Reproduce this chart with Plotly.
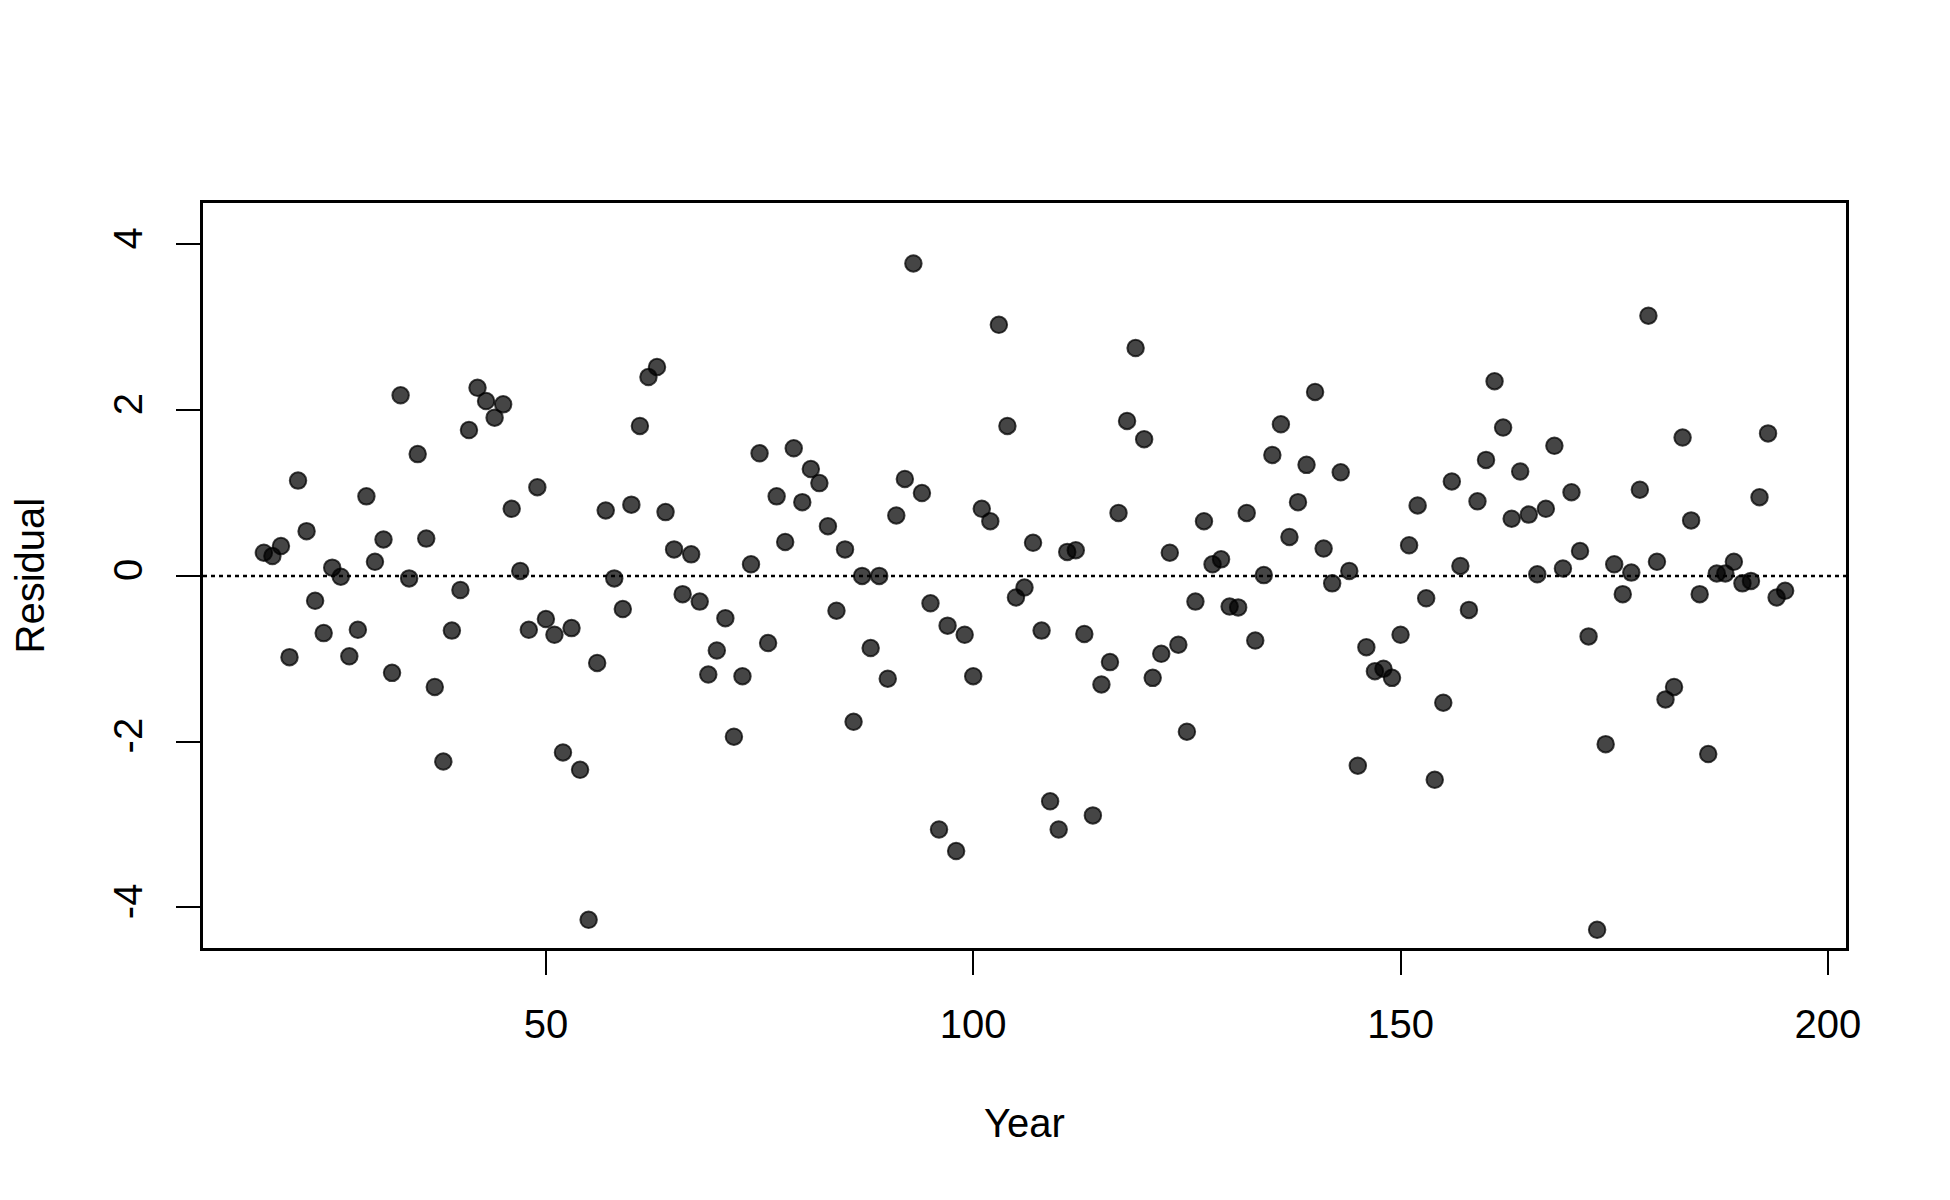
import plotly.graph_objects as go

years = list(range(17, 196))
residuals = [
    0.28, 0.24, 0.36, -0.98, 1.15, 0.54, -0.30, -0.69, 0.10, -0.01,
    -0.97, -0.65, 0.96, 0.17, 0.44, -1.17, 2.18, -0.03, 1.47, 0.45,
    -1.34, -2.24, -0.66, -0.17, 1.76, 2.27, 2.11, 1.91, 2.07, 0.81,
    0.06, -0.65, 1.07, -0.52, -0.71, -2.13, -0.63, -2.34, -4.15, -1.05,
    0.79, -0.03, -0.40, 0.86, 1.81, 2.40, 2.52, 0.77, 0.32, -0.22,
    0.26, -0.31, -1.19, -0.90, -0.51, -1.94, -1.21, 0.14, 1.48, -0.81,
    0.96, 0.41, 1.54, 0.89, 1.29, 1.12, 0.60, -0.42, 0.32, -1.76,
    0.00, -0.87, 0.00, -1.24, 0.73, 1.17, 3.77, 1.00, -0.33, -3.06,
    -0.60, -3.32, -0.71, -1.21, 0.81, 0.66, 3.03, 1.81, -0.26, -0.14,
    0.40, -0.66, -2.72, -3.06, 0.29, 0.31, -0.70, -2.89, -1.31, -1.04,
    0.76, 1.87, 2.75, 1.65, -1.23, -0.94, 0.28, -0.83, -1.88, -0.31,
    0.66, 0.14, 0.20, -0.37, -0.38, 0.76, -0.78, 0.01, 1.46, 1.83,
    0.47, 0.89, 1.34, 2.22, 0.33, -0.09, 1.25, 0.06, -2.29, -0.86,
    -1.15, -1.12, -1.23, -0.71, 0.37, 0.85, -0.27, -2.46, -1.53, 1.14,
    0.12, -0.41, 0.90, 1.40, 2.35, 1.79, 0.69, 1.26, 0.74, 0.02,
    0.81, 1.57, 0.09, 1.01, 0.30, -0.73, -4.27, -2.03, 0.14, -0.22,
    0.04, 1.04, 3.14, 0.17, -1.49, -1.34, 1.67, 0.67, -0.22, -2.15,
    0.03, 0.03, 0.17, -0.09, -0.06, 0.95, 1.72, -0.26, -0.18,
]

x_ticks = [50, 100, 150, 200]
y_ticks = [-4, -2, 0, 2, 4]
x_title = "Year"
y_title = "Residual"

FONT = "Liberation Sans, Arial, sans-serif"

fig = go.Figure()
fig.add_trace(go.Scatter(
    x=years, y=residuals, mode="markers",
    marker=dict(size=16.5, color="rgba(0,0,0,0.73)",
                line=dict(color="rgba(0,0,0,0.73)", width=2)),
    showlegend=False, hoverinfo="x+y",
))

fig.add_shape(type="line", xref="paper", x0=0, x1=1, yref="y", y0=0, y1=0,
              line=dict(color="black", width=2.5, dash="4px,4px"))

axis_common = dict(
    showgrid=False, zeroline=False, showline=True, linecolor="black",
    linewidth=2.7, mirror=True, ticks="outside", ticklen=24, tickwidth=2,
    tickcolor="black", tickfont=dict(family=FONT, size=40, color="black"),
)

fig.update_xaxes(range=[9.88, 202.12], tickvals=x_ticks,
                 ticktext=[str(v) for v in x_ticks], ticklabelstandoff=15,
                 **axis_common)
fig.update_yaxes(range=[-4.49, 4.50], tickvals=y_ticks,
                 ticktext=[str(v) for v in y_ticks], tickangle=-90,
                 ticklabelstandoff=18, **axis_common)

fig.add_annotation(text=x_title, xref="paper", yref="paper", x=0.5, y=0,
                   yshift=-175, showarrow=False, yanchor="middle",
                   font=dict(family=FONT, size=40, color="black"))
fig.add_annotation(text=y_title, xref="paper", yref="paper", x=0, y=0.5,
                   xshift=-174, showarrow=False, textangle=-90,
                   xanchor="center", yanchor="middle",
                   font=dict(family=FONT, size=40, color="black"))

fig.update_layout(
    width=1950, height=1200,
    margin=dict(l=195, r=112, t=195, b=260),
    paper_bgcolor="white", plot_bgcolor="white",
    font=dict(family=FONT, size=40, color="black"),
)

fig.write_html("out.html")
